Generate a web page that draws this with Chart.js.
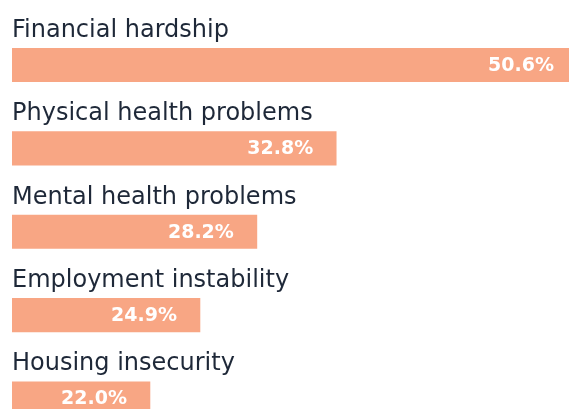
<!DOCTYPE html>
<html>
<head>
<meta charset="utf-8">
<script src="https://cdn.jsdelivr.net/npm/chart.js@4.4.1/dist/chart.umd.min.js"></script>
<style>
  html, body { margin: 0; padding: 0; background: #ffffff; }
  #wrap { width: 569px; height: 409px; position: relative; }
</style>
</head>
<body>
<div id="wrap"><canvas id="barrierChart"></canvas></div>
<script>
const categories = [
    "Financial hardship",
    "Physical health problems",
    "Mental health problems",
    "Employment instability",
    "Housing insecurity"
];
const shares = [50.6, 32.8, 28.2, 24.9, 22.0];

const BAR_COLOR  = "#f8a684";
const TEXT_COLOR = "#1e2838";

// category name above each bar, percentage inside its right end
const barLabels = {
    id: "barLabels",
    afterDatasetsDraw(chart) {
        const ctx = chart.ctx;
        const area = chart.chartArea;
        const meta = chart.getDatasetMeta(0);
        ctx.save();
        meta.data.forEach((bar, i) => {
            const top = bar.y - bar.height / 2;

            ctx.font = "24px 'DejaVu Sans'";
            ctx.fillStyle = TEXT_COLOR;
            ctx.textAlign = "left";
            ctx.textBaseline = "alphabetic";
            ctx.fillText(categories[i], 12, top - 11.5);

            const right = Math.min(bar.x - 23, area.right - 15);
            ctx.font = "bold 19px 'DejaVu Sans'";
            ctx.fillStyle = "#ffffff";
            ctx.textAlign = "right";
            ctx.textBaseline = "middle";
            ctx.fillText(shares[i].toFixed(1) + "%", right, bar.y + 1);
        });
        ctx.restore();
    }
};

new Chart(document.getElementById("barrierChart"), {
    type: "bar",
    data: {
        labels: categories,
        datasets: [{
            data: shares,
            backgroundColor: BAR_COLOR,
            borderWidth: 0,
            barThickness: 33.5,
            // clip sideways to the plot, let the last bar run off the bottom
            clip: { left: 0, right: 0, top: false, bottom: false }
        }]
    },
    options: {
        indexAxis: "y",
        responsive: true,
        maintainAspectRatio: false,
        animation: false,
        layout: { padding: { left: 12, right: 0, top: 65, bottom: 10.5 } },
        plugins: {
            legend: { display: false },
            tooltip: { enabled: false }
        },
        scales: {
            x: { display: false, min: 14, max: 46.3 },
            y: { display: false, offset: false }
        }
    },
    plugins: [barLabels]
});
</script>
</body>
</html>
